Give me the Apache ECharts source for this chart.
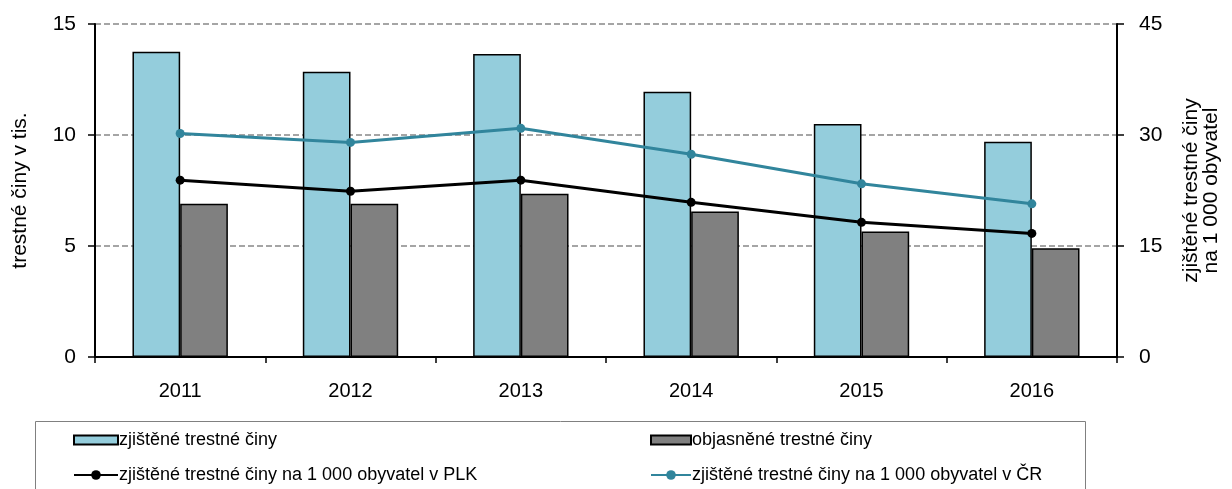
<!DOCTYPE html>
<html>
<head>
<meta charset="utf-8">
<script src="https://cdn.jsdelivr.net/npm/echarts@6/dist/echarts.min.js"></script>
<style>
  html, body { margin: 0; padding: 0; background: #fff; }
  #chart { width: 1232px; height: 489px; }
</style>
</head>
<body>
<div id="chart"></div>
<script>
const years = ['2011', '2012', '2013', '2014', '2015', '2016'];
const detected = [13.75, 12.85, 13.65, 11.95, 10.5, 9.7];
const solved = [6.9, 6.9, 7.35, 6.55, 5.65, 4.9];
const perPlk = [23.9, 22.4, 23.9, 20.9, 18.2, 16.7];
const perCr = [30.2, 29.0, 30.9, 27.4, 23.4, 20.7];

const FONT = '"Liberation Sans", Arial, sans-serif';
const chart = echarts.init(document.getElementById('chart'), null, { renderer: 'canvas' });

// one legend per item so they can sit in a 2x2 grid like the original
const legendBase = {
  orient: 'horizontal',
  padding: 0,
  itemGap: 0,
  textStyle: { fontFamily: FONT, fontSize: 18, color: '#000', padding: [0, 0, 0, -4] },
  selectedMode: false,
};

chart.setOption({
  animation: false,
  textStyle: { fontFamily: FONT },
  grid: { left: 95, right: 115, top: 24, bottom: 132, outerBoundsMode: 'none' },
  graphic: [{
    type: 'rect',
    shape: { x: 35.5, y: 421.5, width: 1050, height: 80 },
    style: { fill: 'none', stroke: '#808080', lineWidth: 1 },
  }],
  legend: [
    { ...legendBase, left: 73, top: 431, itemWidth: 44, itemHeight: 9, icon: 'rect', data: ['zjištěné trestné činy'] },
    { ...legendBase, left: 650, top: 431, itemWidth: 40, itemHeight: 9, icon: 'rect', data: ['objasněné trestné činy'] },
    { ...legendBase, left: 73, top: 466, itemWidth: 44, itemHeight: 12, data: ['zjištěné trestné činy na 1 000 obyvatel v PLK'] },
    { ...legendBase, left: 650, top: 466, itemWidth: 40, itemHeight: 12, data: ['zjištěné trestné činy na 1 000 obyvatel v ČR'] },
  ],
  xAxis: {
    type: 'category',
    data: years,
    axisLine: { lineStyle: { color: '#000', width: 2 } },
    axisTick: { show: true, length: 6, lineStyle: { color: '#000', width: 1.5 } },
    axisLabel: { color: '#000', fontSize: 20, margin: 24, fontFamily: FONT },
  },
  yAxis: [
    {
      type: 'value', min: 0, max: 15, interval: 5,
      name: 'trestné činy v tis.',
      nameLocation: 'middle', nameGap: 64,
      nameTextStyle: { fontSize: 21, color: '#000', fontFamily: FONT },
      axisLine: { show: true, lineStyle: { color: '#000', width: 2 } },
      axisTick: { show: true, length: 7, lineStyle: { color: '#000', width: 1.5 } },
      axisLabel: { color: '#000', fontSize: 21, margin: 19, fontFamily: FONT },
      splitLine: { lineStyle: { color: '#888', type: [6, 3], width: 1.5 } },
    },
    {
      type: 'value', min: 0, max: 45, interval: 15,
      position: 'right',
      name: 'zjištěné trestné činy\nna 1 000 obyvatel',
      nameLocation: 'middle', nameGap: 64,
      nameTextStyle: { fontSize: 21, color: '#000', fontFamily: FONT, lineHeight: 20 },
      axisLine: { show: true, lineStyle: { color: '#000', width: 2 } },
      axisTick: { show: true, length: 7, lineStyle: { color: '#000', width: 1.5 } },
      axisLabel: { color: '#000', fontSize: 21, margin: 22, fontFamily: FONT },
      splitLine: { show: false },
    },
  ],
  series: [
    {
      name: 'zjištěné trestné činy', type: 'bar', data: detected,
      barGap: '0%', barCategoryGap: '44%',
      itemStyle: { color: '#94CDDC', borderColor: '#000', borderWidth: 1.5 },
    },
    {
      name: 'objasněné trestné činy', type: 'bar', data: solved,
      itemStyle: { color: '#808080', borderColor: '#000', borderWidth: 1.5 },
    },
    {
      name: 'zjištěné trestné činy na 1 000 obyvatel v PLK', type: 'line', yAxisIndex: 1, data: perPlk,
      symbol: 'circle', symbolSize: 9,
      lineStyle: { color: '#000', width: 3 },
      itemStyle: { color: '#000' },
    },
    {
      name: 'zjištěné trestné činy na 1 000 obyvatel v ČR', type: 'line', yAxisIndex: 1, data: perCr,
      symbol: 'circle', symbolSize: 9,
      lineStyle: { color: '#31859C', width: 3 },
      itemStyle: { color: '#31859C' },
    },
  ],
});
</script>
</body>
</html>
